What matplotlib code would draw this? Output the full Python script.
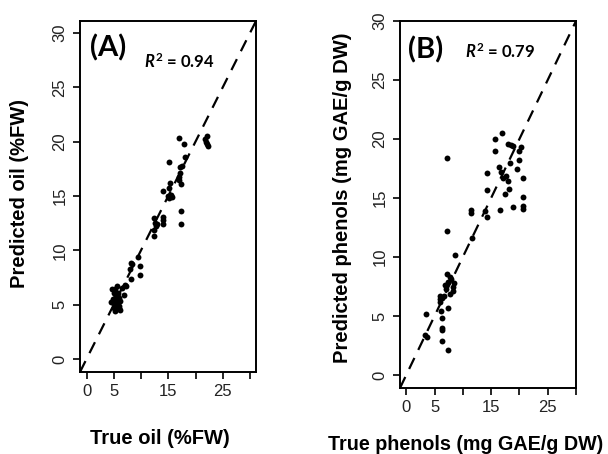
import matplotlib
matplotlib.use("Agg")
import matplotlib.pyplot as plt

plt.rcParams['mathtext.fontset'] = 'custom'
plt.rcParams['mathtext.it'] = 'Lato:italic:bold'
plt.rcParams['mathtext.rm'] = 'Lato:bold'
plt.rcParams['mathtext.bf'] = 'Lato:bold'

# Panel A: oil (%FW)
oil_true = [22.1, 22.0, 22.2, 21.8, 22.1, 16.9, 17.8, 18.1, 17.5, 17.2, 17.2, 16.9,
            17.4, 17.3, 17.3, 15.2, 15.4, 15.2, 15.5, 15.1, 15.7, 14.0, 14.0, 14.0,
            12.3, 12.9, 14.0, 12.3, 12.3, 12.5, 9.5, 9.9, 9.8, 8.4, 8.0, 8.2,
            7.3, 6.9, 7.1, 4.7, 5.6, 5.0, 5.7, 5.3, 5.9, 4.7, 5.6, 6.1,
            5.0, 5.9, 5.3, 6.2, 6.5, 5.3, 5.8, 4.4, 5.2, 5.5, 6.0, 4.9,
            15.0, 16.9, 12.8, 8.1]
oil_pred = [20.5, 20.0, 19.6, 20.2, 19.8, 20.3, 19.8, 18.6, 17.8, 17.7, 17.1, 16.5,
            16.1, 13.6, 12.4, 18.1, 16.2, 15.7, 15.1, 14.8, 14.9, 15.5, 13.1, 12.4,
            13.0, 12.4, 12.8, 11.9, 11.3, 12.5, 9.4, 8.6, 7.7, 8.7, 8.3, 7.4,
            6.7, 5.9, 6.8, 6.4, 6.7, 6.1, 6.1, 5.6, 5.6, 5.2, 5.2, 5.3,
            4.7, 4.7, 4.4, 4.5, 6.5, 6.4, 5.7, 5.2, 5.0, 5.9, 4.9, 5.5,
            15.0, 16.7, 12.2, 8.8]

# Panel B: phenols (mg GAE/g DW)
phen_true = [7.2, 7.2, 8.6, 3.5, 3.4, 3.6, 6.0, 6.1, 6.3, 6.3, 6.3, 6.3,
             7.3, 7.4, 7.2, 7.7, 7.4, 8.2, 8.3, 7.7, 6.6, 6.3, 6.0, 5.9,
             7.9, 8.5, 7.0, 6.8, 11.5, 11.5, 11.7, 13.9, 14.2, 14.2, 14.2, 15.6,
             15.6, 16.4, 16.8, 17.1, 18.0, 16.5, 17.0, 17.4, 18.0, 18.9, 20.2, 20.0,
             18.3, 20.0, 19.5, 20.7, 18.2, 20.7, 20.7, 20.7, 18.8, 17.6, 18.5]
phen_pred = [18.4, 12.2, 10.2, 5.2, 3.4, 3.2, 6.7, 5.4, 4.8, 4.0, 3.8, 2.9,
             2.1, 5.7, 8.6, 8.3, 7.9, 7.5, 7.1, 6.9, 6.7, 6.5, 6.2, 6.4,
             8.1, 7.8, 7.3, 7.6, 14.0, 13.7, 11.6, 13.9, 13.4, 17.1, 15.7, 20.0,
             19.0, 17.6, 17.2, 16.7, 16.4, 14.0, 20.5, 15.3, 19.6, 19.4, 19.3, 19.0,
             18.0, 18.2, 17.5, 16.7, 15.8, 15.1, 14.3, 14.1, 14.2, 16.9, 19.5]

ticks = [0, 5, 10, 15, 20, 25, 30]
xtick_labels = ['0', '5', '', '15', '', '25', '']
ytick_labels = ['0', '5', '10', '15', '20', '25', '30']

W, H = 608, 454
fig = plt.figure(figsize=(W / 100, H / 100), dpi=100)

def box(l, r, t, b):
    return [l / W, 1 - b / H, (r - l) / W, (b - t) / H]

def setup(ax, lim):
    ax.set_xlim(lim)
    ax.set_ylim(lim)
    ax.set_xticks(ticks)
    ax.set_xticklabels(xtick_labels, fontsize=12, family='Liberation Sans', color='#222222')
    ax.set_yticks(ticks)
    ax.set_yticklabels(ytick_labels, fontsize=12, family='Liberation Sans', color='#222222',
                       rotation=90, va='center')
    ax.tick_params(direction='out', length=5, width=1.2, pad=4)
    for s in ax.spines.values():
        s.set_linewidth(1.4)
    ax.axline((0, 0), slope=1, color='black', lw=1.6, linestyle=(0, (5.5, 4)))

axA = fig.add_axes(box(80, 256, 21, 372))
setup(axA, (-1.2, 31.1))
axA.scatter(oil_true, oil_pred, s=18, color='black', zorder=3, linewidths=0)

axB = fig.add_axes(box(400, 576, 21, 388))
setup(axB, (-1.1, 30.0))
axB.scatter(phen_true, phen_pred, s=18, color='black', zorder=3, linewidths=0)

def ftext(x, y, s, **kw):
    fig.text(x / W, 1 - y / H, s, **kw)

lab = dict(family='Liberation Sans', weight='bold', fontsize=14.5, ha='center', va='center')
ftext(160, 439, 'True oil (%FW)', **lab)
ftext(20, 193, 'Predicted oil (%FW)', rotation=90, **lab)
ftext(466, 445, 'True phenols (mg GAE/g DW)', family='Liberation Sans', weight='bold',
      fontsize=14.2, ha='center', va='center')
ftext(342, 198, 'Predicted phenols (mg GAE/g DW)', rotation=90, **lab)

pan = dict(family='Lato', weight='bold', fontsize=21, ha='left', va='center')
ftext(90, 48, '(A)', **pan)
ftext(408, 50, '(B)', **pan)

r2 = dict(family='Lato', weight='bold', fontsize=12, ha='left', va='center')
ftext(144, 62, r'$R^2$ = 0.94', **r2)
ftext(465, 52, r'$R^2$ = 0.79', **r2)

fig.savefig('out.png', dpi=100)
